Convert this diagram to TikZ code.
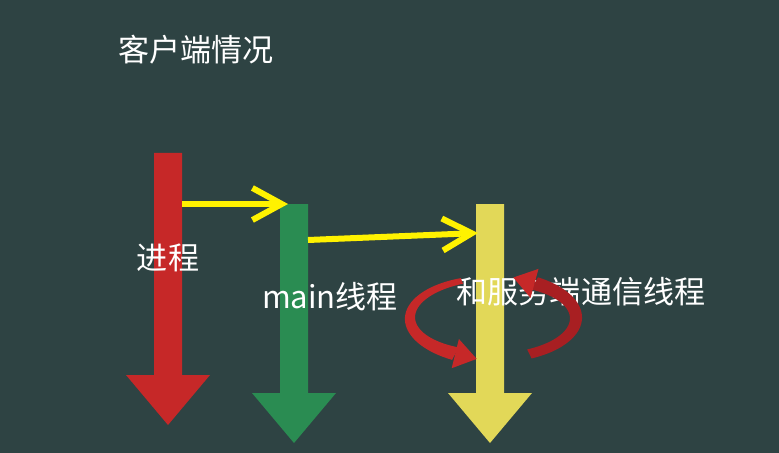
\documentclass[tikz,border=0pt]{standalone}
\usepackage{fontspec}
\setmainfont{Noto Sans CJK SC}
\usepackage{tikz}
\usetikzlibrary{arrows.meta,calc}
\definecolor{board}{HTML}{2E4343}
\definecolor{procred}{HTML}{C62828}
\definecolor{loopred}{HTML}{A81F22}
\definecolor{mainframe}{HTML}{2A8C52}
\definecolor{netframe}{HTML}{E2D858}
\definecolor{linkcol}{HTML}{FFF200}
\newcommand{\bigdown}[4]{\fill[#1] (#2-14,#3) -- (#2+14,#3) -- (#2+14,#4-50) -- (#2+42,#4-50) -- (#2,#4) -- (#2-42,#4-50) -- (#2-14,#4-50) -- cycle;}
\tikzset{
  txt/.style={text=white,inner sep=0pt,font=\fontsize{23.3}{27}\selectfont},
  link/.style={draw=linkcol,line width=4.5pt,-{Straight Barb[length=22pt,width=24pt]}}
}

\begin{document}
\begin{tikzpicture}[x=0.75pt,y=-0.75pt]
\fill[board] (0,0) rectangle (779,453);
\useasboundingbox (0,0) rectangle (779,453);
\bigdown{procred}{168}{153}{425}
\bigdown{mainframe}{294}{204}{443}
\bigdown{netframe}{490}{204}{443}
\coordinate (proc) at (168,153);
\coordinate (main) at (294,204);
\coordinate (net) at (490,204);
\draw[link] ($(proc)+(14,51)$) -- ($(main)+(-6,0)$);
\draw[link] ($(main)+(14,36)$) -- ($(net)+(-12,29)$);
\node[txt] (title) at (196,50) {客户端情况};
\node[txt] (proclbl) at (168,258) {进程};
\node[txt] (mainlbl) at (330,297) {main线程};
\node[txt] (netlbl) at (581,292) {和服务端通信线程};
\fill[procred] plot[domain=112:243,samples=40] ({493+(83+(3+4*(\x-112)/131))*cos(\x)},{318-(40+(3+4*(\x-112)/131))*sin(\x)})
  -- plot[domain=243:112,samples=40] ({493+(83-(3+4*(\x-112)/131))*cos(\x)},{318-(40-(3+4*(\x-112)/131))*sin(\x)}) -- cycle;
\fill[procred] (451.7,368.2) -- (476.7,358.9) -- (458.9,339.0) -- cycle;
\fill[loopred] plot[domain=-64:60,samples=40] ({493+(83+(5+2*(\x+64)/124))*cos(\x)},{318-(40+(5+2*(\x+64)/124))*sin(\x)})
  -- plot[domain=60:-64,samples=40] ({493+(83-(5+2*(\x+64)/124))*cos(\x)},{318-(40-(5+2*(\x+64)/124))*sin(\x)}) -- cycle;
\fill[procred] (538.5,268.9) -- (513.3,277.5) -- (530.5,297.9) -- cycle;
\end{tikzpicture}
\end{document}
